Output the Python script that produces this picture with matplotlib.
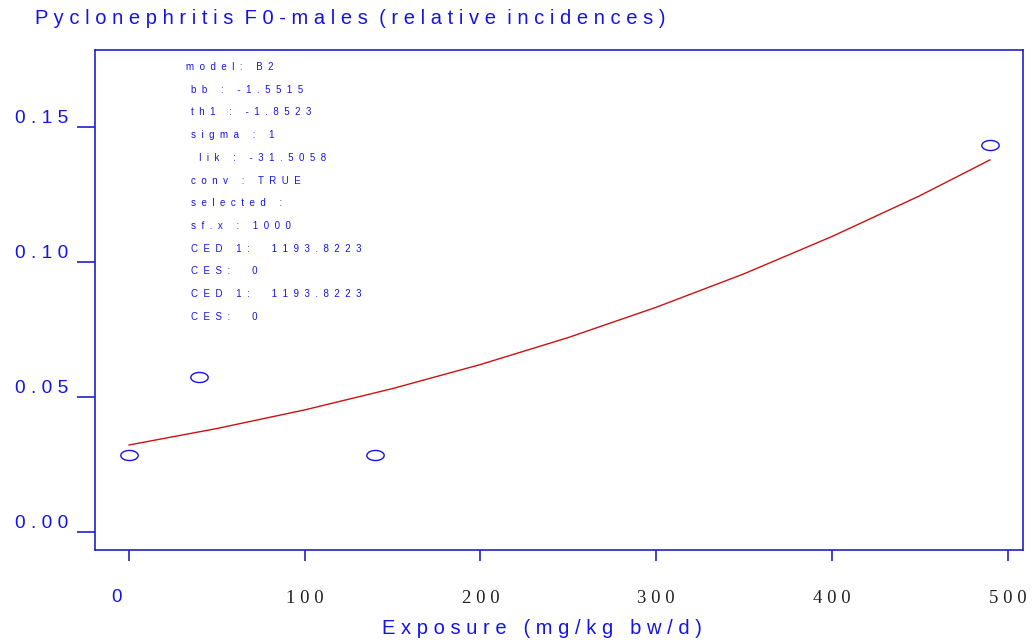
import numpy as np
import matplotlib
matplotlib.use("Agg")
import matplotlib.pyplot as plt
from matplotlib.path import Path

# observed relative incidences
dose = [0, 40, 140, 490]
incidence = [0.0285, 0.0574, 0.0285, 0.1433]

# fitted B2 curve
fit_dose = [0, 50, 100, 150, 200, 250, 300, 350, 400, 450, 490]
fit_resp = [0.0322, 0.0383, 0.0452, 0.0531, 0.0620, 0.0720, 0.0832, 0.0956, 0.1094, 0.1245, 0.1378]

xticks = [0, 100, 200, 300, 400, 500]
yticks = [0.00, 0.05, 0.10, 0.15]

title = "Pyclonephritis F0-males (relative incidences)"
xlabel = "Exposure (mg/kg bw/d)"
info_lines = ["model: B2", "bb : -1.5515", "th1 : -1.8523", "sigma : 1",
              " lik : -31.5058", "conv : TRUE", "selected :", "sf.x : 1000",
              "CED 1:  1193.8223", "CES:  0", "CED 1:  1193.8223", "CES:  0"]


def spaced(s, n=1):
    # crude letter spacing
    return (" " * n).join(s)


blue = "#1414e6"
frame = "#2020cc"
sans = "Liberation Sans"
serif = "Liberation Serif"

fig = plt.figure(figsize=(10.33, 6.42), dpi=100)
ax = fig.add_axes([95 / 1033, 1 - 550 / 642, 928 / 1033, 500 / 642])

t = np.linspace(0, 2 * np.pi, 60)
ellipse = Path(np.column_stack([np.cos(t), 0.58 * np.sin(t)]), closed=True)

ax.plot(fit_dose, fit_resp, color="#cc1111", lw=1.0)
ax.plot(dose, incidence, ls="none", marker=ellipse, ms=12.5,
        mfc="none", mec=blue, mew=1.0)

ax.set_xlim(-19.4, 508.8)
ax.set_ylim(-0.0067, 0.1785)

for sp in ax.spines.values():
    sp.set_color(frame)
    sp.set_linewidth(1.2)

ax.set_xticks(xticks)
ax.set_xticklabels([""] + [spaced(str(v)) for v in xticks[1:]],
                   fontfamily=serif, fontsize=13.5, color="#222222")
ax.set_yticks(yticks)
ax.set_yticklabels([spaced("%.2f" % v) for v in yticks],
                   fontfamily=sans, fontsize=13.8, color=blue)
for lab in ax.get_yticklabels():
    lab.set_va("bottom")
ax.tick_params(axis="x", direction="out", length=8, width=1.2, colors=frame,
               labelcolor="#222222", pad=21)
ax.tick_params(axis="y", direction="out", length=13, width=1.2, colors=frame,
               labelcolor=blue, pad=6)

fig.text(117 / 1033, 1 - 597 / 642, "0", fontfamily=sans, fontsize=13.5,
         color=blue, ha="center", va="center")

fig.text(35 / 1033, 1 - 18 / 642, spaced(title).replace("   ", "  "),
         fontfamily=sans, fontsize=14.5, color=blue, ha="left", va="center")
fig.text(542 / 1033, 1 - 629 / 642, spaced(xlabel),
         fontfamily=sans, fontsize=14.5, color=blue, ha="center", va="center")

for i, line in enumerate(info_lines):
    x0 = 186 if i == 0 else 191
    fig.text(x0 / 1033, 1 - (67 + 22.7 * i) / 642, spaced(line, 2),
             fontfamily=sans, fontsize=7, color=blue, ha="left", va="center")

fig.savefig("out.png", dpi=100)
